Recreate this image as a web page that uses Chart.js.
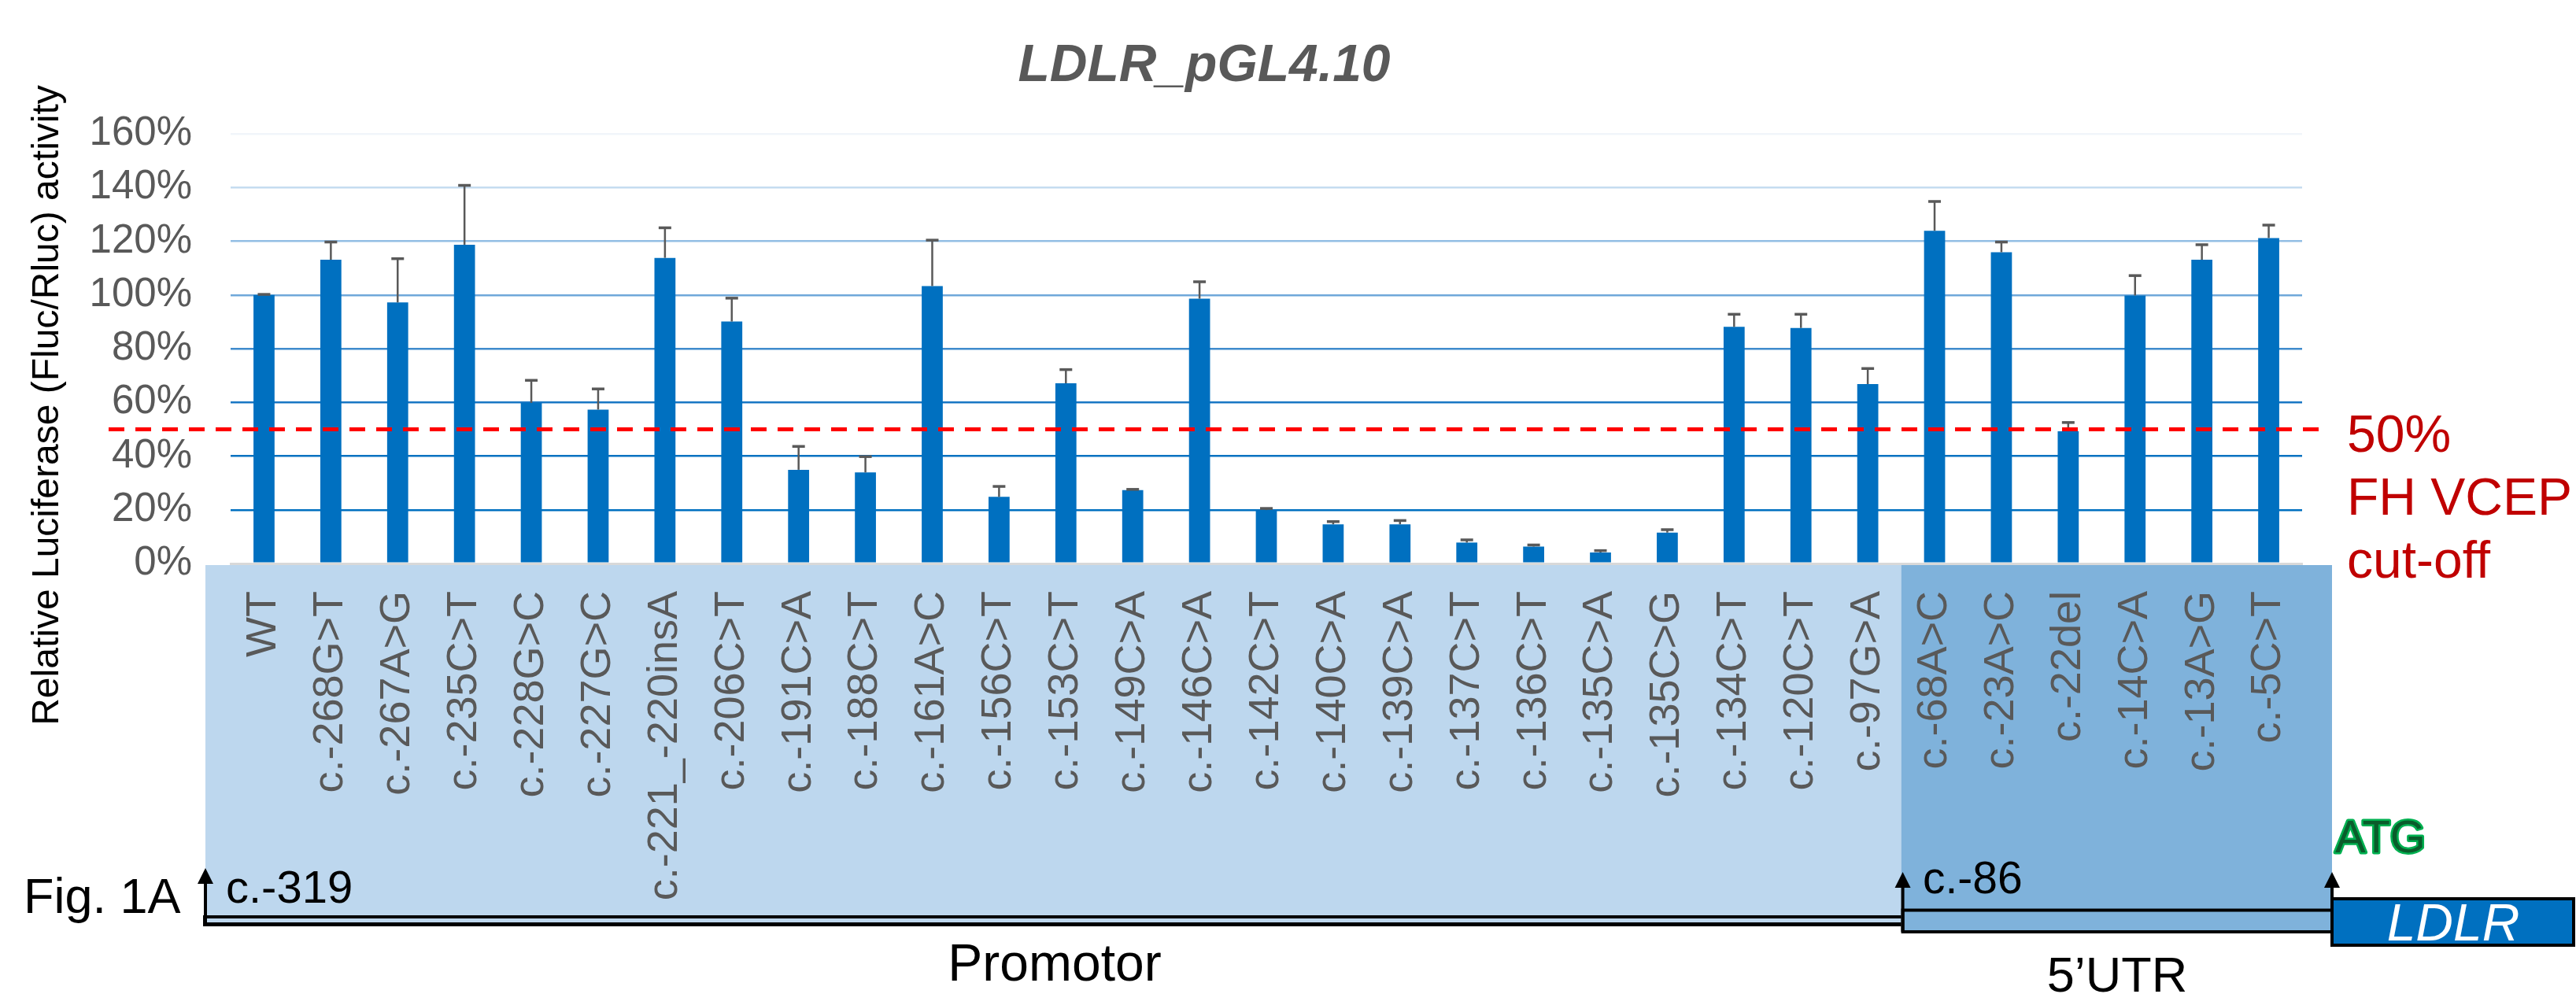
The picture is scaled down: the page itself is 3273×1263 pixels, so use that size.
<!DOCTYPE html>
<html><head><meta charset="utf-8">
<script src="https://cdn.jsdelivr.net/npm/chart.js@4.4.1/dist/chart.umd.min.js"></script>
<style>html,body{margin:0;padding:0;background:#fff;overflow:hidden}canvas{display:block}</style>
</head><body>
<canvas id="c" width="3273" height="1263"></canvas>
<script>
// ---------------- data ----------------
const categories = ['WT','c.-268G>T','c.-267A>G','c.-235C>T','c.-228G>C','c.-227G>C','c.-221_-220insA','c.-206C>T','c.-191C>A','c.-188C>T','c.-161A>C','c.-156C>T','c.-153C>T','c.-149C>A','c.-146C>A','c.-142C>T','c.-140C>A','c.-139C>A','c.-137C>T','c.-136C>T','c.-135C>A','c.-135C>G','c.-134C>T','c.-120C>T','c.-97G>A','c.-68A>C','c.-23A>C','c.-22del','c.-14C>A','c.-13A>G','c.-5C>T'];
const activity = [100,113.1,97.2,118.7,59.8,57.3,113.8,90.1,34.9,33.9,103.3,24.8,67.1,27.3,98.6,19.9,14.6,14.6,7.8,6.3,4.1,11.5,88.1,87.7,66.8,123.9,115.9,49.2,99.8,113.1,121.2];
const errorUp = [0.2,6.6,16.3,22.1,8.4,7.7,11.2,8.7,8.7,5.9,17.1,3.9,5.1,0.3,6.3,0.6,1.0,1.4,1.0,0.6,0.7,1.1,4.7,5.1,5.8,10.9,3.8,3.3,7.4,5.6,4.8];
const yTickValues = [0,20,40,60,80,100,120,140,160];
const cutoff = 50;
const chartTitle = 'LDLR_pGL4.10';
const yAxisTitle = 'Relative Luciferase (Fluc/Rluc) activity';
const cutoffLabel = ['50%','FH VCEP','cut-off'];
const firstUtrIndex = 25; // c.-68A>C starts the 5'UTR region
const schemeLabels = {fig:'Fig. 1A', start:'c.-319', utrStart:'c.-86', atg:'ATG', gene:'LDLR', promoter:'Promotor', utr:'5\u2019UTR'};

// ---------------- styling ----------------
const FONT = "'Liberation Sans', Arial, Helvetica, sans-serif";
const gridColors = {0:'#D9D9D9',20:'#0070C0',40:'#0A72C1',60:'#1877C4',80:'#3F8BCD',100:'#6FA8DA',120:'#93BEE4',140:'#C5DCF0',160:'#F1F5FA'};

function arrow(ctx, x, yBottom, yTip){
  ctx.fillStyle = '#000';
  ctx.fillRect(x-2, yTip+18, 4, yBottom-(yTip+18));
  ctx.beginPath();
  ctx.moveTo(x-10, yTip+20); ctx.lineTo(x+10, yTip+20); ctx.lineTo(x, yTip); ctx.closePath();
  ctx.fill();
}

const decor = {
  id:'decor',
  beforeDraw(chart){
    const ctx = chart.ctx, ca = chart.chartArea, xs = chart.scales.x;
    const split = (xs.getPixelForValue(firstUtrIndex-1) + xs.getPixelForValue(firstUtrIndex))/2;
    const boxL = ca.left - 32, boxR = ca.right + 38, top = ca.bottom + 2;
    ctx.save();
    ctx.fillStyle = '#BDD7EE';
    ctx.fillRect(boxL, top, split-boxL, 1172-top);
    ctx.fillStyle = '#7FB2DB';
    ctx.fillRect(split, top, boxR-split, 1184-top);
    // promoter double line
    ctx.fillStyle = '#000';
    ctx.fillRect(boxL-3, 1163, split-boxL+3, 4);
    ctx.fillRect(boxL-3, 1172, split-boxL+3, 5);
    ctx.fillRect(boxL-3, 1163, 5, 14);
    // 5'UTR box
    ctx.strokeStyle = '#000'; ctx.lineWidth = 4;
    ctx.strokeRect(split+2, 1156.5, boxR-split-2, 27.5);
    // LDLR box
    ctx.fillStyle = '#0070C0';
    ctx.fillRect(boxR, 1142, 3270-boxR, 59);
    ctx.strokeRect(boxR, 1142, 3270-boxR, 59);
    arrow(ctx, boxL, 1177, 1103);
    arrow(ctx, split+2, 1184, 1108);
    arrow(ctx, boxR, 1142, 1108);
    ctx.restore();
  },
  afterDatasetsDraw(chart){
    const ctx = chart.ctx, ys = chart.scales.y, meta = chart.getDatasetMeta(0);
    ctx.save();
    ctx.strokeStyle = '#595959';
    meta.data.forEach((bar, i) => {
      const yTop = ys.getPixelForValue(activity[i] + errorUp[i]);
      const yBar = ys.getPixelForValue(activity[i]);
      ctx.lineWidth = 2.5;
      ctx.beginPath(); ctx.moveTo(bar.x, yBar); ctx.lineTo(bar.x, yTop); ctx.stroke();
      ctx.lineWidth = 3.5;
      ctx.beginPath(); ctx.moveTo(bar.x-8, yTop); ctx.lineTo(bar.x+8, yTop); ctx.stroke();
    });
    // cutoff line
    const yc = ys.getPixelForValue(cutoff);
    ctx.strokeStyle = '#FF0000'; ctx.lineWidth = 5; ctx.setLineDash([20,14]);
    ctx.beginPath(); ctx.moveTo(138, yc); ctx.lineTo(2954, yc); ctx.stroke();
    ctx.restore();
  },
  afterDraw(chart){
    const ctx = chart.ctx;
    ctx.save();
    ctx.textBaseline = 'alphabetic';
    // title
    ctx.fillStyle = '#595959'; ctx.textAlign = 'center';
    ctx.font = 'italic bold 66px ' + FONT;
    ctx.fillText(chartTitle, 1530, 103);
    // y title
    ctx.save();
    ctx.translate(74, 515); ctx.rotate(-Math.PI/2);
    ctx.fillStyle = '#000'; ctx.font = '48px ' + FONT; ctx.textAlign = 'center';
    ctx.fillText(yAxisTitle, 0, 0);
    ctx.restore();
    // cutoff label
    ctx.fillStyle = '#C00000'; ctx.textAlign = 'left'; ctx.font = '66px ' + FONT;
    cutoffLabel.forEach((t, i) => ctx.fillText(t, 2982, 574 + i*80));
    // scheme labels
    ctx.fillStyle = '#000';
    ctx.font = '63px ' + FONT; ctx.fillText(schemeLabels.fig, 30, 1160);
    ctx.font = '58px ' + FONT; ctx.fillText(schemeLabels.start, 287, 1147);
    ctx.font = '57px ' + FONT; ctx.fillText(schemeLabels.utrStart, 2443, 1135);
    ctx.textAlign = 'center';
    ctx.font = '66px ' + FONT; ctx.fillText(schemeLabels.promoter, 1340, 1246);
    ctx.font = '63px ' + FONT; ctx.fillText(schemeLabels.utr, 2690, 1260);
    ctx.fillStyle = '#FFFFFF'; ctx.font = 'italic 66px ' + FONT;
    ctx.fillText(schemeLabels.gene, 3117, 1195);
    ctx.textAlign = 'left';
    ctx.font = '58px ' + FONT;
    ctx.lineWidth = 5; ctx.strokeStyle = '#00B050'; ctx.lineJoin = 'round';
    ctx.strokeText(schemeLabels.atg, 2967, 1083);
    ctx.fillStyle = '#0A5C2B';
    ctx.fillText(schemeLabels.atg, 2967, 1083);
    ctx.restore();
  }
};

new Chart(document.getElementById('c'), {
  type: 'bar',
  data: { labels: categories, datasets: [{ data: activity, backgroundColor: '#0070C0', borderWidth: 0, barPercentage: 0.315, categoryPercentage: 1 }] },
  options: {
    responsive: false, animation: false, devicePixelRatio: 1,
    layout: { padding: { left: 0, right: 348, top: 170, bottom: 0 } },
    plugins: { legend: { display: false }, tooltip: { enabled: false }, title: { display: false } },
    scales: {
      x: {
        grid: { display: false, drawTicks: false },
        border: { display: true, color: '#D9D9D9', width: 3 },
        ticks: { autoSkip: false, minRotation: 90, maxRotation: 90, padding: 35, color: '#595959', font: { family: FONT, size: 54 } },
        afterFit: s => { s.height = 547; }
      },
      y: {
        min: 0, max: 160,
        afterBuildTicks: s => { s.ticks = yTickValues.map(v => ({ value: v })); },
        grid: { drawTicks: false, color: c => gridColors[c.tick.value] || '#9DC3E6', lineWidth: c => c.tick.value === 0 ? 3 : 2.5 },
        border: { display: false },
        ticks: { padding: 49, color: '#595959', font: { family: FONT, size: 51 }, callback: v => v + '%' },
        afterFit: s => { s.width = 293; }
      }
    }
  },
  plugins: [decor]
});
</script>
</body></html>
